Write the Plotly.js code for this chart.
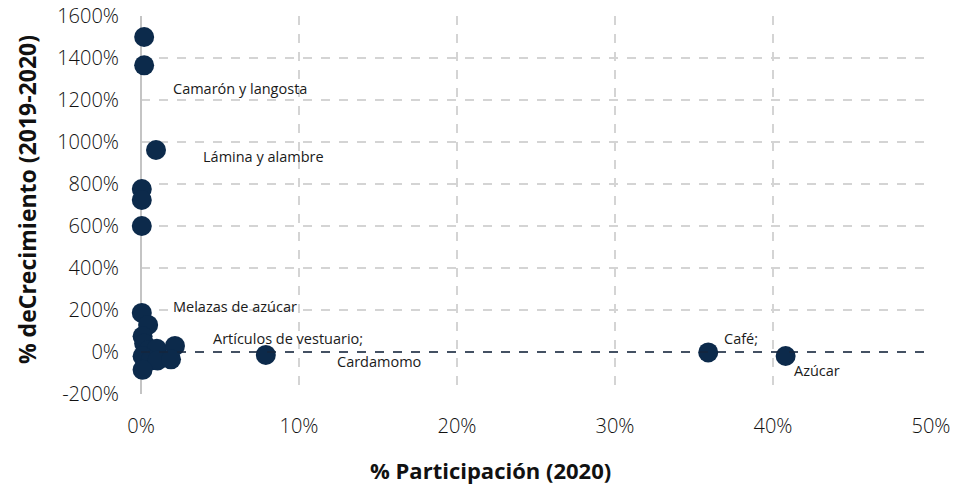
<!DOCTYPE html>
<html>
<head>
<meta charset="utf-8">
<script src="https://cdn.plot.ly/plotly-3.0.1.min.js"></script>
<style>html,body{margin:0;padding:0;background:#fff;}#chart{width:956px;height:485px;}</style>
</head>
<body>
<div id="chart"></div>
<script>
// Participación 2020 (%) and crecimiento 2019-2020 (%)
const participacion = [0.2, 0.2, 0.95, 0.05, 0.05, 0.05, 0.05, 0.45, 0.1, 0.2, 0.5, 1.0, 0.1, 0.6, 1.05, 0.1, 2.15, 1.9, 7.9, 35.9, 40.8];
const crecimiento   = [1500, 1365, 962, 776, 724, 600, 186, 129, 75, 40, 10, 15, -20, -40, -40, -85, 29, -35, -14, -2, -19];

const labelText = ["Camarón y langosta", "Lámina y alambre", "Melazas de azúcar", "Artículos de vestuario;", "Cardamomo", "Café;", "Azúcar"];
const labelX    = [1.9, 3.8, 1.9, 4.4, 12.3, 36.8, 41.2];
const labelY    = [1257, 929, 219, 62, -43, 62, -90];

const xTicks = [0, 10, 20, 30, 40, 50];
const yTicks = [-200, 0, 200, 400, 600, 800, 1000, 1200, 1400, 1600];

const xTitle = '% Participación (2020)';
const yTitle = '% deCrecimiento (2019-2020)';

const fontFam = "Open Sans, sans-serif";

const trace = {
  type: 'scatter', mode: 'markers',
  x: participacion, y: crecimiento,
  marker: {color: '#0c2a4b', size: 20, line: {width: 0}},
  hoverinfo: 'x+y', cliponaxis: false
};

const annotations = labelText.map((t, i) => ({
  x: labelX[i], y: labelY[i], text: t, showarrow: false,
  xanchor: 'left', yanchor: 'middle',
  font: {family: fontFam, size: 14.5, color: '#1a1a1a'}
}));
annotations.push({
  xref: 'paper', yref: 'paper', x: 0.4418, y: -0.201, xanchor: 'center', yanchor: 'middle',
  text: xTitle, showarrow: false,
  font: {family: fontFam, size: 22, color: '#111', weight: 700}
});
annotations.push({
  xref: 'paper', yref: 'paper', x: -0.1443, y: 0.513, xanchor: 'center', yanchor: 'middle',
  text: yTitle, showarrow: false, textangle: -90,
  font: {family: fontFam, size: 23, color: '#111', weight: 700}
});

const layout = {
  width: 956, height: 485,
  margin: {l: 141, r: 25, t: 16, b: 91},
  paper_bgcolor: '#fff', plot_bgcolor: '#fff',
  showlegend: false,
  font: {family: fontFam, color: '#222'},
  xaxis: {
    range: [0, 50], tickvals: xTicks, ticktext: xTicks.map(v => v + '%'),
    showgrid: true, gridcolor: '#d4d4d4', griddash: 'dash', gridwidth: 1.5,
    zeroline: true, zerolinecolor: '#c4c4c4', zerolinewidth: 2.5,
    showline: false, ticks: '', ticklabelstandoff: 18,
    tickfont: {family: fontFam, size: 20, color: '#111', weight: 300}
  },
  yaxis: {
    range: [-200, 1600], tickvals: yTicks, ticktext: yTicks.map(v => v + '%'),
    showgrid: true, gridcolor: '#d4d4d4', griddash: 'dash', gridwidth: 1.5,
    zeroline: false, showline: false, ticks: '', ticklabelstandoff: 21,
    tickfont: {family: fontFam, size: 20, color: '#111', weight: 300}
  },
  shapes: [{
    type: 'line', xref: 'paper', x0: 0, x1: 1, yref: 'y', y0: 0, y1: 0,
    line: {color: '#14263e', width: 1.6, dash: 'dash'}, layer: 'above'
  }],
  annotations: annotations
};

Plotly.newPlot('chart', [trace], layout, {displayModeBar: false, staticPlot: true});
</script>
</body>
</html>
